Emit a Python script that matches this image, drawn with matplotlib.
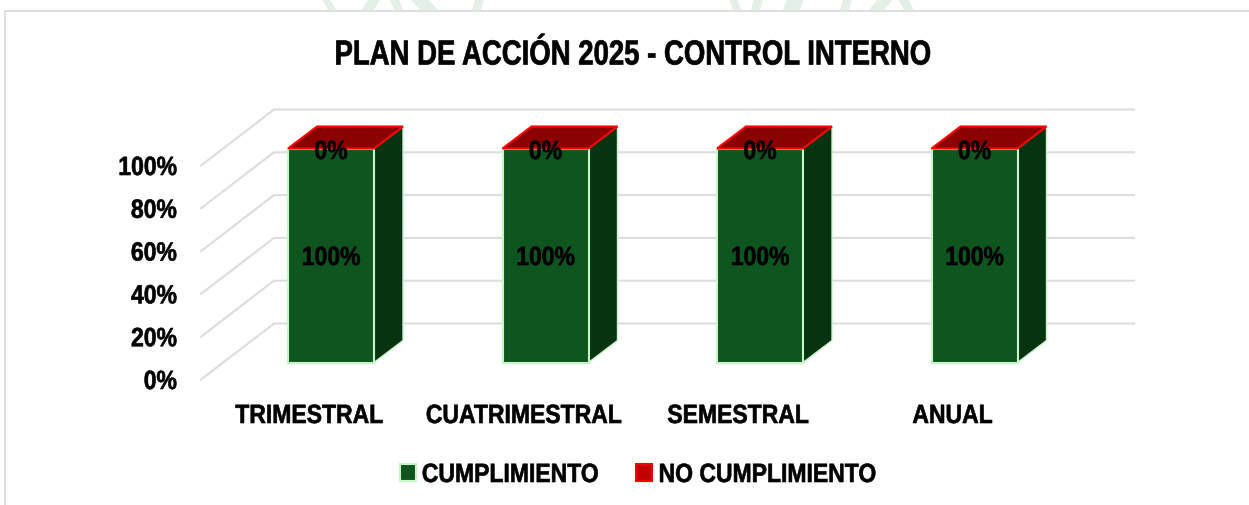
import matplotlib
matplotlib.use("Agg")
import matplotlib.pyplot as plt
from matplotlib.patches import Polygon, Patch
from matplotlib.patheffects import AbstractPathEffect
from matplotlib.transforms import Affine2D
from matplotlib import font_manager as fm

categories = ["TRIMESTRAL", "CUATRIMESTRAL", "SEMESTRAL", "ANUAL"]
cumplimiento = [100, 100, 100, 100]
no_cumplimiento = [0, 0, 0, 0]
ticks = [0, 20, 40, 60, 80, 100]
title = "PLAN DE ACCIÓN 2025 - CONTROL INTERNO"
watermark_strokes = [(328, 336, -6), (362, 374, 6), (394, 403, -4), (420, 438, -10), (472, 481, 3),
                     (733, 741, -4), (751, 760, 3), (783, 800, 4), (840, 849, 3), (869, 884, 9),
                     (904, 914, -6)]

FONT = "Liberation Sans"


class Condense(AbstractPathEffect):
    """Narrow the real text glyphs around their anchor and thicken them slightly."""

    def __init__(self, sx, ha="center", stroke=0.45):
        super().__init__()
        self.sx, self.ha, self.stroke = sx, ha, stroke

    def draw_path(self, renderer, gc, tpath, affine, rgbFace=None):
        ext = tpath.get_extents(affine)
        cx = {"left": ext.x0, "center": (ext.x0 + ext.x1) / 2, "right": ext.x1}[self.ha]
        aff = affine + Affine2D().translate(-cx, 0).scale(self.sx, 1).translate(cx, 0)
        gc0 = renderer.new_gc()
        gc0.copy_properties(gc)
        gc0.set_linewidth(self.stroke)
        gc0.set_foreground("black")
        renderer.draw_path(gc0, tpath, aff, rgbFace)
        gc0.restore()


W, H = 1249, 506
fig = plt.figure(figsize=(W / 100, H / 100), dpi=100, facecolor="white")
ax = fig.add_axes([0, 0, 1, 1])

# Scales: category spacing 214.5 px, 2.14 px per percent
XU, YU = 214.5, 2.14
X0, Y0 = 331, 363.5
ax.set_xlim(-X0 / XU, (W - X0) / XU)
ax.set_ylim(-(H - Y0) / YU, Y0 / YU)
ax.axis("off")


def px(x):
    return (x - X0) / XU


def py(y):
    return (Y0 - y) / YU


bar_w = 86 / XU
dx, dy = 29 / XU, 22 / YU
wall_x, wall_dy = px(274), py(324.5)
left_x, left_dy = px(201), py(380.5)
right_x = px(1134)

GRID = "#DDDDDD"
for t in ticks:
    ax.plot([left_x, wall_x, right_x], [t + left_dy, t + wall_dy, t + wall_dy],
            color=GRID, lw=1.5, zorder=1, solid_joinstyle="miter")
    ax.text(px(177), t + py(383), f"{t}%", ha="right", va="center", family=FONT,
            weight="bold", fontsize=19, color="black", zorder=6,
            path_effects=[Condense(0.87, "right")])

GREEN, GREEN_D, GREEN_E = "#0F5520", "#083311", "#C6F5C6"
RED_T, RED_E = "#8B0000", "#FF0000"
for i, (c, g, r) in enumerate(zip(categories, cumplimiento, no_cumplimiento)):
    l, rt = i - bar_w / 2, i + bar_w / 2
    top = g + r
    ax.add_patch(Polygon([(rt, 0), (rt + dx, dy), (rt + dx, g + dy), (rt, g)],
                         fc=GREEN_D, ec=GREEN_E, lw=1, zorder=3))
    ax.bar(i, g, width=bar_w, color=GREEN, edgecolor=GREEN_E, lw=1.5, zorder=4)
    ax.add_patch(Polygon([(l, top), (l + dx, top + dy), (rt + dx, top + dy), (rt, top)],
                         fc=RED_T, ec=RED_E, lw=1.5, zorder=5))
    ax.text(i, py(259), f"{g}%", ha="center", va="center", family=FONT, weight="bold",
            fontsize=19, zorder=7, path_effects=[Condense(0.87)])
    ax.text(i, py(153), f"{r}%", ha="center", va="center", family=FONT, weight="bold",
            fontsize=19, zorder=7, path_effects=[Condense(0.87)])
    ax.text(i - 22 / XU, py(417), c, ha="center", va="center", family=FONT,
            weight="bold", fontsize=19, zorder=7, path_effects=[Condense(0.87)])

ax.text(px(633.5), py(56), title, ha="center", va="center", family=FONT, weight="bold",
        fontsize=25, path_effects=[Condense(0.793, stroke=0.5)])

handles = [Patch(fc=GREEN, ec=GREEN_E, lw=1.5, label="CUMPLIMIENTO"),
           Patch(fc="#C00000", ec=RED_E, lw=1.5, label="NO CUMPLIMIENTO")]
leg = ax.legend(handles=handles, ncol=2, loc="center", bbox_to_anchor=(654 / W, 1 - 476 / H),
                frameon=False, handlelength=0.6, handleheight=0.6, handletextpad=0.23,
                columnspacing=0.45, borderpad=0, borderaxespad=0,
                prop=fm.FontProperties(family=FONT, weight="bold", size=19))
for txt in leg.get_texts():
    txt.set_path_effects([Condense(0.87, "left")])

# faint watermark behind the chart, cut off by the frame
for a, b, slant in watermark_strokes:
    ax.fill([px(a), px(b), px(b + slant), px(a + slant)], [py(11), py(11), py(0), py(0)],
            color="#E3EFE7", lw=0, zorder=0)

# outer chart frame
ax.plot([px(4.5), px(4.5), px(W)], [py(H), py(11.5), py(11.5)], color="#D9D9D9", lw=1.2)

fig.savefig("out.png", dpi=100)
